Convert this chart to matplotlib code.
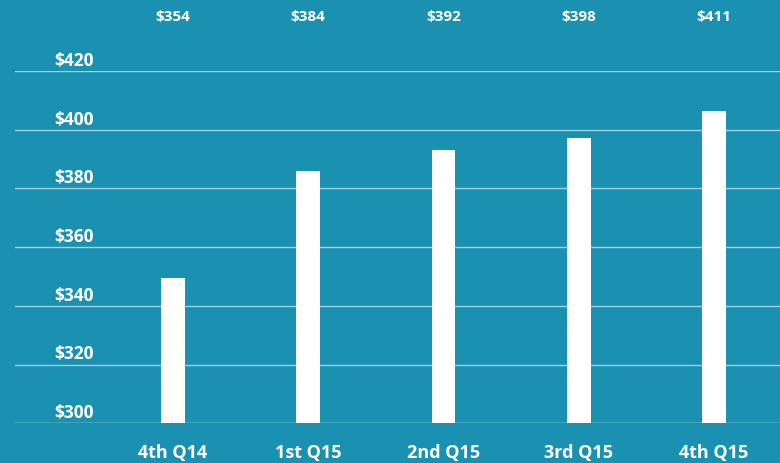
import matplotlib
matplotlib.use("Agg")
import matplotlib.pyplot as plt

categories = ["4th Q14", "1st Q15", "2nd Q15", "3rd Q15", "4th Q15"]
bar_values = [349.4, 386.0, 393.1, 397.3, 406.4]
top_labels = ["$354", "$384", "$392", "$398", "$411"]
y_ticks = [300, 320, 340, 360, 380, 400, 420]
y_tick_labels = ["$300", "$320", "$340", "$360", "$380", "$400", "$420"]

BG = "#1b91b1"
FONT = ["Open Sans", "DejaVu Sans"]

fig = plt.figure(figsize=(7.8, 4.64), dpi=100, facecolor=BG)
ax = fig.add_axes([15 / 780, 39.7 / 464, 765 / 780, 352.3 / 464])
ax.set_facecolor(BG)

x = list(range(len(categories)))
ax.bar(x, [v - 300 for v in bar_values], bottom=300, width=0.175,
       color="white", zorder=3)

ax.set_xlim(-1.168, 4.488)
ax.set_ylim(300, 420)

for s in ax.spines.values():
    s.set_visible(False)

for t in y_ticks:
    ax.axhline(t, color="white", alpha=0.6 if t != 300 else 0.8,
               lw=1.0, zorder=1)

ax.set_yticks([])
ax.set_xticks(x)
ax.set_xticklabels(categories, fontfamily=FONT, fontweight="bold",
                   fontsize=13, color="white")
ax.tick_params(axis="x", length=0, pad=14)

# y labels sitting above gridlines
for t, lab in zip(y_ticks, y_tick_labels):
    ax.annotate(lab, xy=(39 / 765, t), xycoords=("axes fraction", "data"),
                xytext=(0, 1.5), textcoords="offset points",
                ha="left", va="bottom", fontfamily=FONT, fontweight="bold",
                fontsize=12.5, color="white")

# top value labels
for xi, lab in zip(x, top_labels):
    ax.annotate(lab, xy=(xi, 0.964), xycoords=("data", "figure fraction"),
                ha="center", va="center", fontfamily=FONT, fontweight="bold",
                fontsize=11, color="white")

fig.savefig("out.png", dpi=100, facecolor=BG)
